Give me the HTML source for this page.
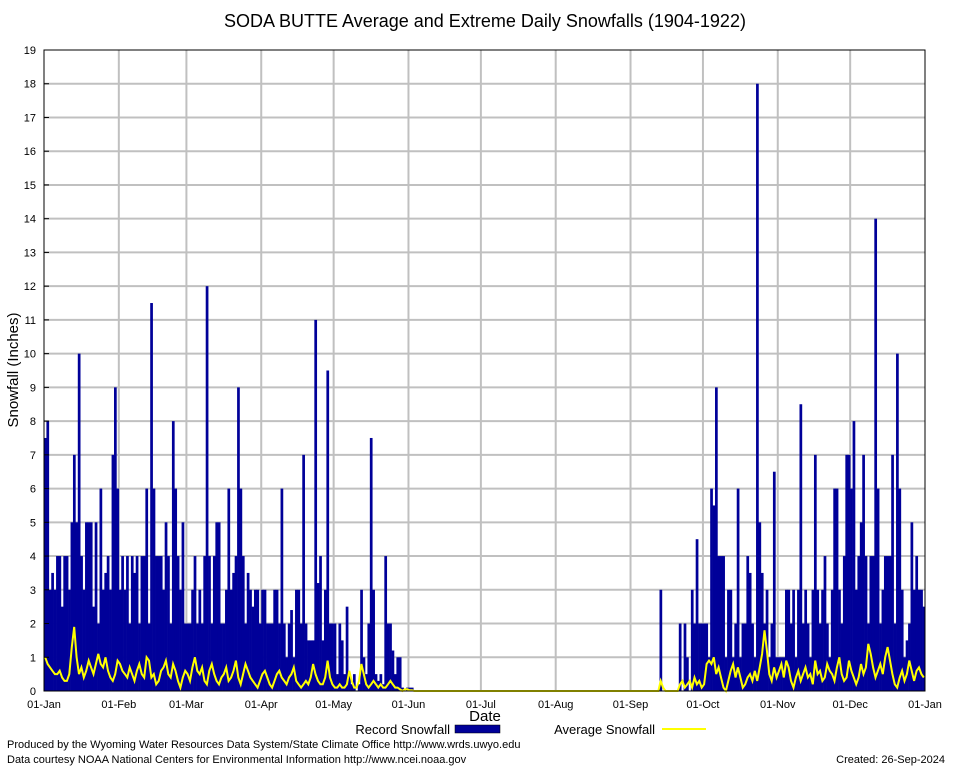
<!DOCTYPE html>
<html><head><meta charset="utf-8"><style>
body{margin:0;background:#fff}
svg text{font-family:"Liberation Sans","DejaVu Sans",sans-serif}
</style></head><body>
<svg id="c" width="954" height="768" xmlns="http://www.w3.org/2000/svg">
<rect width="954" height="768" fill="#fff"/>
<text x="485" y="27" font-size="18" text-anchor="middle">SODA BUTTE Average and Extreme Daily Snowfalls (1904-1922)</text>
<g id="grid"></g><g id="bars"></g><g id="avg"></g><g id="axes"></g>
<text x="18" y="370" font-size="15" text-anchor="middle" transform="rotate(-90 18 370)">Snowfall (Inches)</text>
<text x="485" y="721" font-size="15" text-anchor="middle">Date</text>
<g>
<text x="450" y="734" font-size="13" text-anchor="end">Record Snowfall</text>
<rect x="455" y="725" width="45" height="8" fill="#000099" stroke="#000" stroke-width="0.5"/>
<text x="655" y="734" font-size="13" text-anchor="end">Average Snowfall</text>
<line x1="662" y1="729" x2="706" y2="729" stroke="#ffff00" stroke-width="2"/>
</g>
<text x="7" y="748" font-size="11">Produced by the Wyoming Water Resources Data System/State Climate Office http://www.wrds.uwyo.edu</text>
<text x="7" y="763" font-size="11">Data courtesy NOAA National Centers for Environmental Information http://www.ncei.noaa.gov</text>
<text x="945" y="763" font-size="11" text-anchor="end">Created:  26-Sep-2024</text>
</svg>
<script>
const monthLabels=["01-Jan","01-Feb","01-Mar","01-Apr","01-May","01-Jun","01-Jul","01-Aug","01-Sep","01-Oct","01-Nov","01-Dec","01-Jan"];
const monthStarts=[0,31,59,90,120,151,181,212,243,273,304,334,365];
const yTicks=[0,1,2,3,4,5,6,7,8,9,10,11,12,13,14,15,16,17,18,19];
const recJan=[7.5,8,3,3.5,3,4,4,2.5,4,4,3,5,7,5,10,4,3,5,5,5,2.5,5,2,6,3,3.5,4,3,7,9,6];
const recFeb=[3,4,3,4,2,4,3.5,4,2,4,4,6,2,11.5,6,4,4,4,3,5,4,2,8,6,4,3,5,2];
const recMar=[2,2,3,4,2,3,2,4,12,4,2,4,5,5,2,2,3,6,3,3.5,4,9,6,4,2,3.5,3,2.5,3,3,2];
const recApr=[3,3,2,2,2,3,3,2,6,2,1,2,2.4,1,3,3,2,7,2,1.5,1.5,1.5,11,3.2,4,1.5,3,9.5,2,2];
const recMay=[2,0.5,2,1.5,0.5,2.5,0.5,0.2,0.5,0,0.2,3,1,0.5,2,7.5,3,0.5,0.3,0.5,0.2,4,2,2,1.2,0.5,1,1,0.1,0,0.1];
const recJun=[0.1,0.1,0,0,0,0,0,0,0,0,0,0,0,0,0,0,0,0,0,0,0,0,0,0,0,0,0,0,0,0];
const recJul=new Array(31).fill(0);
const recAug=new Array(31).fill(0);
const recSep=[0,0,0,0,0,0,0,0,0,0,0,0,3,0,0,0,0,0,0,0,2,0,2,1,0,3,2,4.5,2,2];
const recOct=[2,2,1,6,5.5,9,4,4,4,1,3,3,1,2,6,1,2,2,4,3.5,2,1,18,5,3.5,2,3,1,2,6.5,1];
const recNov=[1,1,1,3,3,2,3,1,3,8.5,2,3,2,1,3,7,3,2,3,4,2,1,3,6,6,3,2,4,7,7];
const recDec=[6,8,3,4,5,7,4,2,4,4,14,6,2,3,4,4,4,7,2,10,6,3,1,1.5,2,5,3,4,3,3,2.5];
const avgJan=[1.0,0.8,0.7,0.6,0.5,0.5,0.6,0.4,0.3,0.3,0.5,1.3,1.9,1.0,0.5,0.7,0.4,0.6,0.9,0.7,0.5,0.8,1.1,0.8,0.7,1.0,0.6,0.4,0.3,0.5,0.9];
const avgFeb=[0.8,0.6,0.5,0.4,0.7,0.5,0.3,0.6,0.8,0.5,0.4,1.0,0.9,0.4,0.5,0.2,0.3,0.6,0.7,0.9,0.5,0.4,0.8,0.6,0.3,0.1,0.4,0.6];
const avgMar=[0.5,0.3,0.7,1.0,0.6,0.5,0.7,0.3,0.2,0.6,0.8,0.5,0.3,0.2,0.4,0.5,0.7,0.3,0.4,0.6,0.9,0.4,0.2,0.5,0.8,0.6,0.4,0.3,0.2,0.1,0.3];
const avgApr=[0.5,0.6,0.4,0.2,0.1,0.3,0.5,0.6,0.4,0.3,0.2,0.4,0.5,0.7,0.3,0.2,0.1,0.2,0.3,0.2,0.4,0.8,0.5,0.3,0.2,0.2,0.4,0.9,0.4,0.2];
const avgMay=[0.1,0.1,0.2,0.1,0.1,0.2,0.6,0.3,0.1,0.1,0.3,0.8,0.5,0.2,0.1,0.2,0.3,0.2,0.1,0.2,0.1,0.1,0.2,0.3,0.2,0.1,0.1,0.05,0,0.05,0.05];
const avgJun=[0.02,0.02,0,0,0,0,0,0,0,0,0,0,0,0,0,0,0,0,0,0,0,0,0,0,0,0,0,0,0,0];
const avgJul=new Array(31).fill(0);
const avgAug=new Array(31).fill(0);
const avgSep=[0,0,0,0,0,0,0,0,0,0,0,0,0.3,0.1,0,0,0,0,0,0,0.2,0.3,0.1,0.2,0.3,0.1,0.4,0.2,0.3,0.1];
const avgOct=[0.2,0.8,0.9,0.8,1.0,0.5,0.7,0.4,0.1,0,0.3,0.6,0.8,0.4,0.7,0.4,0.1,0.2,0.4,0.5,0.3,0.6,0.3,0.7,1.1,1.8,1.2,0.5,0.3,0.7,0.4];
const avgNov=[0.6,0.8,0.4,0.9,0.7,0.3,0.1,0.4,0.6,0.3,0.5,0.7,0.4,0.5,0.2,0.9,0.5,0.6,0.3,0.4,0.8,0.6,0.5,0.3,0.7,1.0,0.5,0.3,0.4,0.9];
const avgDec=[0.6,0.4,0.2,0.4,0.8,0.5,0.7,1.4,1.1,0.7,0.4,0.6,0.8,0.5,1.0,1.3,0.9,0.5,0.2,0.1,0.4,0.6,0.3,0.5,0.9,0.6,0.3,0.6,0.7,0.5,0.4];
const record=[].concat(recJan,recFeb,recMar,recApr,recMay,recJun,recJul,recAug,recSep,recOct,recNov,recDec);
const average=[].concat(avgJan,avgFeb,avgMar,avgApr,avgMay,avgJun,avgJul,avgAug,avgSep,avgOct,avgNov,avgDec);

const NS="http://www.w3.org/2000/svg";
const X0=44,X1=925,Y0=691,Y1=50,YMAX=19,NDAYS=365;
const xs=d=>X0+d*(X1-X0)/NDAYS;
const ys=v=>Y0-v*(Y0-Y1)/YMAX;
function mk(tag,attrs,parent){const e=document.createElementNS(NS,tag);for(const k in attrs)e.setAttribute(k,attrs[k]);parent.appendChild(e);return e;}
const grid=document.getElementById('grid'),bars=document.getElementById('bars'),avgG=document.getElementById('avg'),axes=document.getElementById('axes');
yTicks.forEach(t=>{
  const y=ys(t);
  if(t>0&&t<YMAX){const l=mk('line',{x1:X0,x2:X1,y1:y,y2:y,stroke:'#c0c0c0','stroke-width':2},grid);
  
  }
  const tk=mk('line',{x1:X0,x2:X0+5,y1:y,y2:y,stroke:'#000'},axes);
  
  
  const tx=mk('text',{x:36,y:y+4,'font-size':11,'text-anchor':'end'},axes);tx.textContent=t;
  
  
});
monthStarts.forEach((d,i)=>{
  const x=xs(d);
  if(i>0&&i<12){const l=mk('line',{x1:x,x2:x,y1:Y1,y2:Y0,stroke:'#c0c0c0','stroke-width':2},grid);
  
  }
  const tx=mk('text',{x:x,y:708,'font-size':11,'text-anchor':'middle'},axes);tx.textContent=monthLabels[i];
  
  
});
record.forEach((v,d)=>{
  if(v<=0)return;
  const r=mk('rect',{x:xs(d),y:ys(v),width:(X1-X0)/NDAYS+0.3,height:Y0-ys(v),fill:'#000099'},bars);
  
  
});
const pts=average.map((v,d)=>xs(d+0.5).toFixed(1)+','+ys(v).toFixed(1)).join(' ');
const pl=mk('polyline',{points:pts,fill:'none',stroke:'#ffff00','stroke-width':2},avgG);


const fr=mk('rect',{x:X0,y:Y1,width:X1-X0,height:Y0-Y1,fill:'none',stroke:'#000','stroke-width':1},axes);


</script>
</body></html>
